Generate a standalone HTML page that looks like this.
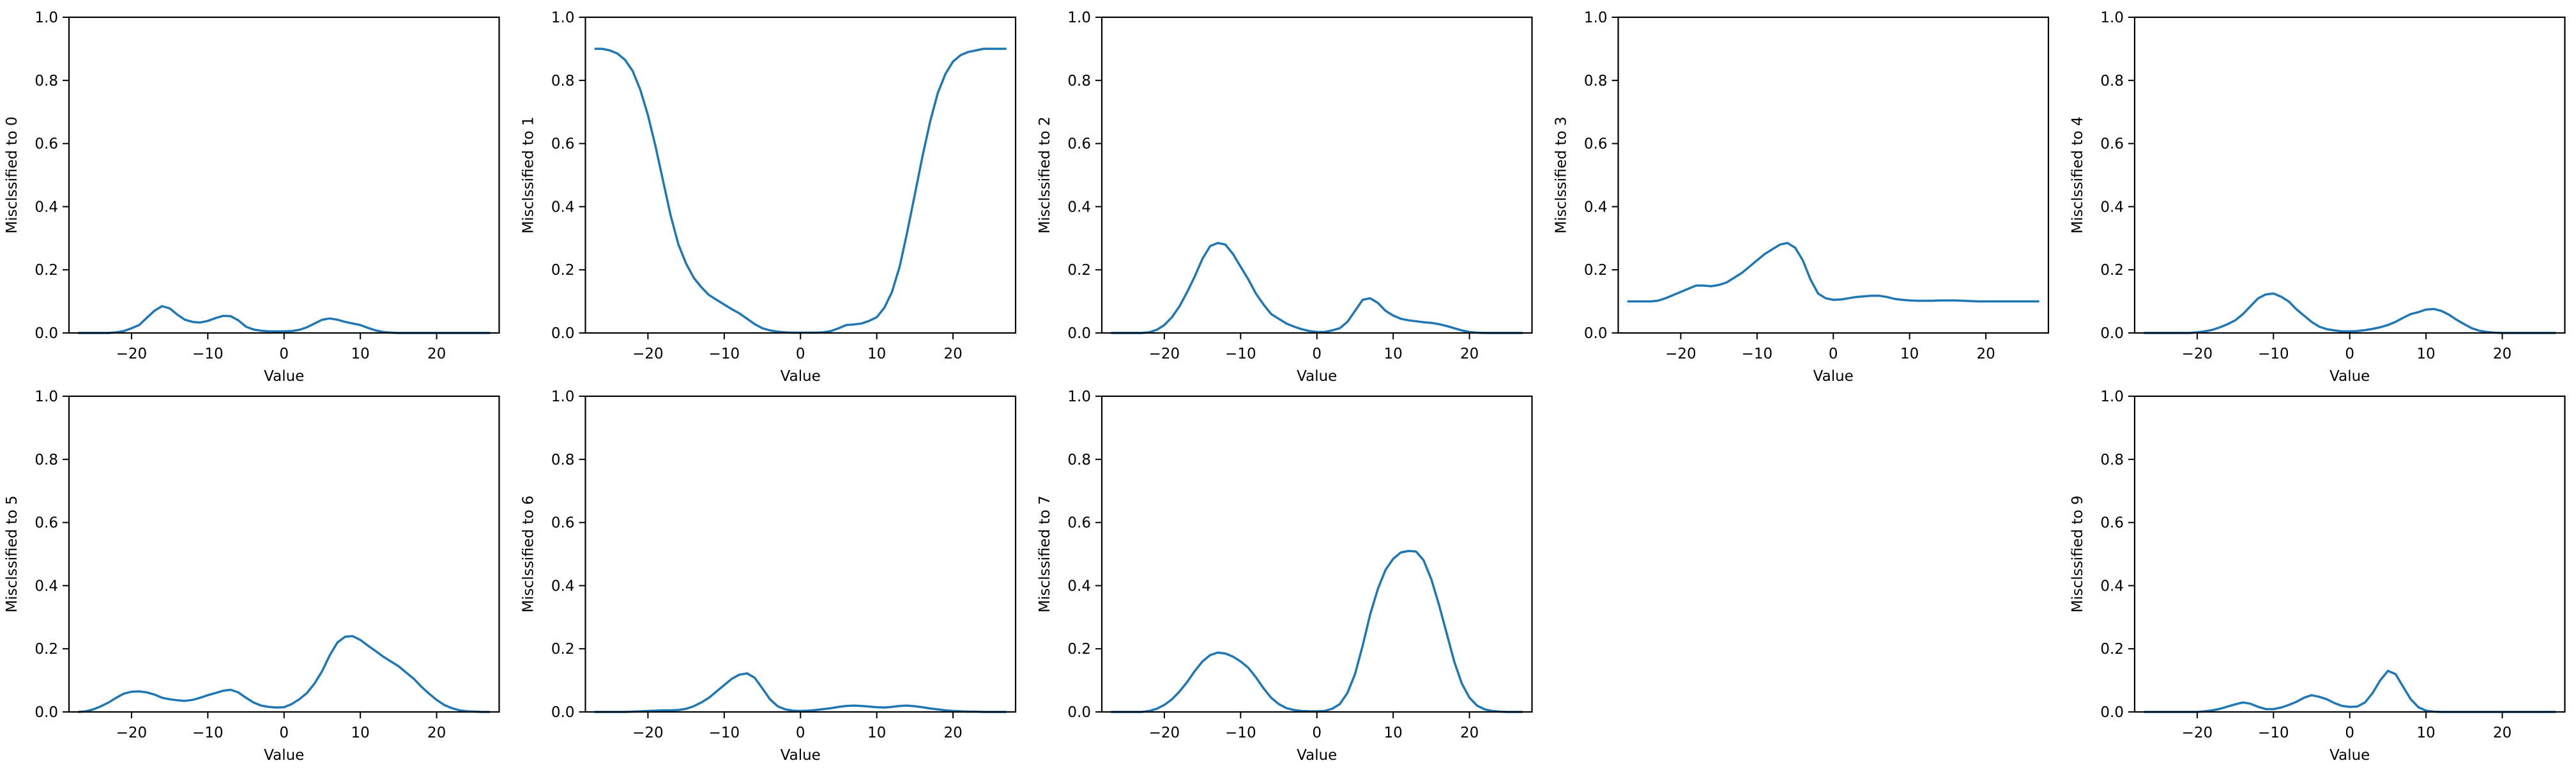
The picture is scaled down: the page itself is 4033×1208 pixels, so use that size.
<!DOCTYPE html>
<html><head><meta charset="utf-8"><style>
html,body{margin:0;padding:0;background:#fff;}
svg{display:block;font-family:"DejaVu Sans","Liberation Sans",sans-serif;}
</style></head><body>
<svg id="fig" width="4033" height="1208" viewBox="0 0 4033 1208" xmlns="http://www.w3.org/2000/svg"></svg>
<script>
const xValues = [-27,-26,-25,-24,-23,-22,-21,-20,-19,-18,-17,-16,-15,-14,-13,-12,-11,-10,-9,-8,-7,-6,-5,-4,-3,-2,-1,0,1,2,3,4,5,6,7,8,9,10,11,12,13,14,15,16,17,18,19,20,21,22,23,24,25,26,27];
const xTicks = [-20,-10,0,10,20];
const xTickLabels = ["\u221220","\u221210","0","10","20"];
const yTicks = [0,0.2,0.4,0.6,0.8,1.0];
const yTickLabels = ["0.0","0.2","0.4","0.6","0.8","1.0"];
const classLabels = ["0","1","2","3","4","5","6","7","9"];
const s0 = [0,0,0,0,0,0.002,0.006,0.015,0.025,0.048,0.07,0.085,0.078,0.058,0.042,0.035,0.033,0.038,0.047,0.054,0.053,0.04,0.02,0.011,0.007,0.005,0.005,0.005,0.006,0.01,0.018,0.03,0.042,0.046,0.042,0.035,0.03,0.025,0.016,0.008,0.003,0.001,0,0,0,0,0,0,0,0,0,0,0,0,0];
const s1 = [0.9,0.9,0.895,0.885,0.865,0.83,0.77,0.69,0.59,0.48,0.37,0.28,0.22,0.175,0.145,0.12,0.105,0.09,0.075,0.062,0.045,0.028,0.015,0.008,0.004,0.002,0.001,0.001,0.001,0.001,0.002,0.006,0.015,0.025,0.027,0.03,0.038,0.05,0.08,0.13,0.21,0.32,0.44,0.56,0.67,0.76,0.82,0.86,0.88,0.89,0.895,0.9,0.9,0.9,0.9];
const s2 = [0,0,0,0,0,0.002,0.01,0.025,0.05,0.085,0.13,0.18,0.235,0.275,0.285,0.28,0.25,0.21,0.17,0.125,0.09,0.06,0.045,0.03,0.02,0.012,0.006,0.003,0.003,0.008,0.015,0.035,0.07,0.105,0.11,0.095,0.07,0.055,0.045,0.04,0.037,0.034,0.032,0.028,0.022,0.015,0.008,0.003,0.001,0,0,0,0,0,0];
const s3 = [0.1,0.1,0.1,0.1,0.102,0.11,0.12,0.13,0.14,0.15,0.15,0.148,0.152,0.16,0.175,0.19,0.21,0.23,0.25,0.265,0.28,0.285,0.27,0.23,0.17,0.125,0.11,0.105,0.106,0.11,0.114,0.116,0.118,0.118,0.114,0.108,0.105,0.103,0.102,0.102,0.102,0.103,0.103,0.103,0.102,0.101,0.1,0.1,0.1,0.1,0.1,0.1,0.1,0.1,0.1];
const s4 = [0,0,0,0,0,0,0,0.002,0.005,0.01,0.018,0.028,0.04,0.06,0.085,0.11,0.122,0.125,0.115,0.1,0.075,0.055,0.035,0.02,0.012,0.008,0.005,0.005,0.006,0.009,0.013,0.018,0.025,0.035,0.048,0.06,0.066,0.074,0.076,0.07,0.058,0.042,0.028,0.015,0.007,0.003,0.001,0,0,0,0,0,0,0,0];
const s5 = [0,0.002,0.008,0.018,0.03,0.045,0.058,0.064,0.065,0.062,0.055,0.045,0.04,0.037,0.035,0.038,0.045,0.053,0.06,0.067,0.07,0.062,0.045,0.03,0.02,0.016,0.014,0.015,0.025,0.04,0.06,0.09,0.13,0.18,0.22,0.238,0.24,0.228,0.21,0.193,0.175,0.16,0.145,0.125,0.105,0.08,0.058,0.038,0.022,0.012,0.005,0.002,0.001,0,0];
const s6 = [0,0,0,0,0,0.001,0.002,0.003,0.004,0.005,0.005,0.006,0.01,0.018,0.03,0.045,0.065,0.085,0.105,0.118,0.122,0.108,0.075,0.04,0.018,0.008,0.004,0.003,0.004,0.006,0.009,0.012,0.016,0.019,0.02,0.019,0.017,0.015,0.014,0.016,0.019,0.02,0.018,0.015,0.011,0.008,0.005,0.003,0.002,0.001,0.001,0,0,0,0];
const s7 = [0,0,0,0,0,0.003,0.01,0.022,0.04,0.065,0.095,0.13,0.16,0.18,0.188,0.185,0.175,0.16,0.14,0.11,0.075,0.045,0.025,0.012,0.006,0.003,0.002,0.002,0.003,0.01,0.025,0.06,0.12,0.21,0.31,0.39,0.45,0.485,0.505,0.51,0.508,0.48,0.42,0.34,0.25,0.16,0.09,0.045,0.02,0.008,0.003,0.001,0,0,0];
const s9 = [0,0,0,0,0,0,0,0,0.002,0.005,0.01,0.017,0.024,0.03,0.026,0.016,0.009,0.009,0.014,0.022,0.032,0.045,0.053,0.048,0.04,0.028,0.019,0.016,0.017,0.03,0.06,0.1,0.13,0.12,0.08,0.04,0.015,0.004,0.001,0,0,0,0,0,0,0,0,0,0,0,0,0,0,0,0];
const seriesList = [s0,s1,s2,s3,s4,s5,s6,s7,s9];
const panelCols = [0,1,2,3,4,0,1,2,4];
const panelRows = [0,0,0,0,0,1,1,1,1];

const NS = "http://www.w3.org/2000/svg";
const svg = document.getElementById('fig');
const colLeft = [108,916.5,1725,2533.5,3342];
const rowTop = [27,620];
const W = 673.5, H = 494;
const XMIN = -28.2, XMAX = 28.2;
function mk(tag, attrs, parent){const e=document.createElementNS(NS,tag);for(const k in attrs)e.setAttribute(k,attrs[k]);parent.appendChild(e);return e;}

seriesList.forEach((series, i) => {
  const L = colLeft[panelCols[i]], T = rowTop[panelRows[i]];
  const sx = v => L + (v - XMIN) / (XMAX - XMIN) * W;
  const sy = v => T + H - v * H;
  const g = mk('g', {}, svg);
  
  
  const pts = xValues.map((x, k) => sx(x).toFixed(1) + ',' + sy(series[k]).toFixed(1)).join(' ');
  const line = mk('polyline', {points: pts, fill: 'none', stroke: '#1f77b4', 'stroke-width': 3.5, 'stroke-linejoin': 'round'}, g);
  
  
  const frame = mk('rect', {x: L, y: T, width: W, height: H, fill: 'none', stroke: '#000', 'stroke-width': 2.2}, g);
  
  
  xTicks.forEach((t, k) => {
    const x = sx(t);
    mk('line', {x1: x, y1: T + H, x2: x, y2: T + H + 10, stroke: '#000', 'stroke-width': 2}, g);
    const tl = mk('text', {x: x, y: T + H + 40, 'font-size': 23, 'text-anchor': 'middle'}, g);
    tl.textContent = xTickLabels[k];
    
    
  });
  yTicks.forEach((t, k) => {
    const y = sy(t);
    mk('line', {x1: L - 10, y1: y, x2: L, y2: y, stroke: '#000', 'stroke-width': 2}, g);
    const tl = mk('text', {x: L - 17, y: y + 8, 'font-size': 23, 'text-anchor': 'end'}, g);
    tl.textContent = yTickLabels[k];
    
    
  });
  const xl = mk('text', {x: L + W / 2, y: T + H + 75, 'font-size': 23, 'text-anchor': 'middle'}, g);
  xl.textContent = 'Value';
  
  
  const yx = L - 82, yy = T + H / 2;
  const yl = mk('text', {x: yx, y: yy, 'font-size': 23, 'text-anchor': 'middle', transform: 'rotate(-90 ' + yx + ' ' + yy + ')'}, g);
  yl.textContent = 'Misclssified to ' + classLabels[i];
  
  
});
</script>
</body></html>
